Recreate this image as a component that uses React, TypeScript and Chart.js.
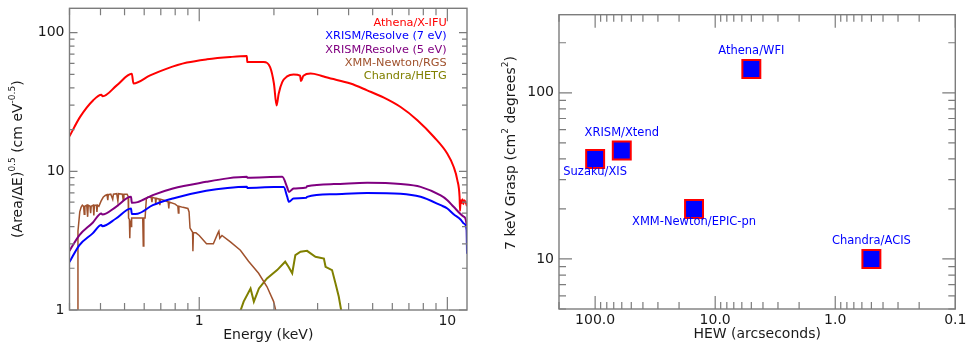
import React, { useEffect, useRef } from 'react';
import { Chart, registerables } from 'chart.js';
Chart.register(...registerables);

const FONT = '"DejaVu Sans", Verdana, sans-serif';
const TEXT = '#1a1a1a';
const FRAME = '#7c7c7c';

// ---------- Left panel: spectra (Energy keV vs (Area/dE)^0.5) ----------
const xifuE = [0.30, 0.331, 0.374, 0.403, 0.408, 0.465, 0.535, 0.543, 0.634, 0.741, 0.892, 1.074, 1.334, 1.555, 1.562, 1.82, 1.93, 2.0, 2.05, 2.09, 2.16, 2.26, 2.40, 2.55, 2.57, 2.63, 2.81, 3.08, 3.25, 4.07, 4.75, 5.55, 6.48, 7.57, 8.83, 10.0, 10.6, 10.97, 11.2, 11.25, 11.3, 11.4, 11.5, 11.6, 11.7, 11.85, 12.0];
const xifuV = [17.9, 24.7, 32.6, 35.7, 34.8, 41.7, 50.5, 43.0, 49.2, 55.1, 60.9, 64.3, 66.8, 67.8, 61.4, 61.4, 56.5, 43.0, 29.9, 36.3, 44.0, 48.4, 50.0, 49.0, 44.8, 49.0, 50.7, 49.2, 47.7, 43.0, 38.4, 34.0, 29.1, 23.4, 17.7, 13.4, 10.8, 8.65, 6.55, 5.2, 6.2, 5.9, 6.3, 5.8, 6.2, 6.0, 5.6];

const res7E = [0.30, 0.329, 0.372, 0.403, 0.407, 0.462, 0.531, 0.535, 0.565, 0.65, 0.783, 1.067, 1.3, 1.555, 1.562, 2.0, 2.19, 2.26, 2.30, 2.40, 2.70, 2.72, 3.49, 4.75, 6.48, 7.8, 9.4, 10.0, 10.6, 11.3, 11.67, 11.97, 12.0];
const res7V = [2.22, 2.94, 3.57, 4.10, 4.02, 4.57, 5.40, 4.92, 4.95, 5.7, 6.38, 7.24, 7.6, 7.75, 7.6, 7.7, 7.7, 6.6, 6.03, 6.37, 6.45, 6.55, 6.85, 6.98, 6.9, 6.55, 5.7, 5.4, 4.9, 4.5, 4.2, 3.77, 2.55];

const res5E = [0.30, 0.329, 0.372, 0.403, 0.407, 0.462, 0.531, 0.535, 0.565, 0.65, 0.783, 1.067, 1.3, 1.555, 1.562, 2.16, 2.26, 2.30, 2.40, 2.70, 2.72, 3.49, 4.75, 6.48, 7.8, 9.4, 10.0, 10.6, 11.67, 11.97, 12.0];
const res5V = [2.67, 3.47, 4.26, 4.97, 4.88, 5.55, 6.55, 5.93, 6.0, 6.74, 7.53, 8.4, 8.9, 9.13, 9.0, 9.13, 7.7, 7.1, 7.53, 7.65, 7.8, 8.09, 8.26, 8.1, 7.73, 6.7, 6.2, 5.55, 4.7, 4.0, 2.8];

const rgsE = [0.324, 0.3245, 0.330, 0.334, 0.338, 0.342, 0.344, 0.346, 0.352, 0.355, 0.357, 0.363, 0.365, 0.367, 0.374, 0.376, 0.378, 0.385, 0.387, 0.389, 0.394, 0.402, 0.41, 0.418, 0.425, 0.428, 0.43, 0.44, 0.448, 0.451, 0.465, 0.47, 0.473, 0.49, 0.494, 0.497, 0.512, 0.517, 0.519, 0.523, 0.525, 0.527, 0.531, 0.534, 0.55, 0.58, 0.592, 0.595, 0.598, 0.605, 0.612, 0.62, 0.64, 0.645, 0.648, 0.665, 0.668, 0.671, 0.69, 0.694, 0.697, 0.72, 0.75, 0.754, 0.757, 0.8, 0.82, 0.824, 0.828, 0.86, 0.9, 0.91, 0.918, 0.935, 0.94, 0.943, 0.947, 0.97, 1.0, 1.07, 1.14, 1.19, 1.2, 1.21, 1.235, 1.335, 1.465, 1.58, 1.735, 1.876, 1.995, 2.06];
const rgsV = [0.9, 3.7, 5.1, 5.5, 5.7, 5.6, 4.9, 5.6, 5.7, 4.7, 5.7, 5.6, 5.0, 5.6, 5.7, 4.8, 5.7, 5.7, 5.1, 5.7, 5.6, 6.1, 6.5, 6.7, 6.8, 6.2, 6.8, 6.85, 6.3, 6.85, 6.9, 6.1, 6.9, 6.85, 6.2, 6.85, 6.85, 6.6, 4.6, 4.5, 3.3, 4.4, 4.0, 4.6, 4.6, 4.6, 4.6, 2.9, 4.6, 4.6, 6.3, 6.5, 6.5, 6.0, 6.5, 6.4, 5.8, 6.4, 6.3, 5.7, 6.3, 6.2, 6.0, 5.4, 6.0, 5.8, 5.6, 5.0, 5.6, 5.5, 5.4, 5.1, 3.9, 3.7, 3.65, 2.65, 3.6, 3.6, 3.45, 3.0, 3.0, 3.6, 3.7, 3.3, 3.45, 3.1, 2.7, 2.25, 1.84, 1.47, 1.15, 0.9];

const hetgE = [1.44, 1.51, 1.61, 1.66, 1.74, 1.875, 2.06, 2.22, 2.29, 2.37, 2.44, 2.56, 2.72, 2.94, 3.18, 3.23, 3.43, 3.54, 3.65, 3.77];
const hetgV = [0.9, 1.15, 1.43, 1.15, 1.43, 1.69, 1.94, 2.23, 2.05, 1.84, 2.49, 2.63, 2.67, 2.42, 2.35, 2.05, 1.94, 1.56, 1.25, 0.9];

const seriesLabels = ['Athena/X-IFU', 'XRISM/Resolve (7 eV)', 'XRISM/Resolve (5 eV)', 'XMM-Newton/RGS', 'Chandra/HETG'];
const seriesColors = ['#ff0000', '#0000ff', '#800080', '#a0522d', '#808000'];

// ---------- Right panel: grasp vs HEW ----------
const missions = ['Suzaku/XIS', 'XRISM/Xtend', 'Athena/WFI', 'XMM-Newton/EPIC-pn', 'Chandra/ACIS'];
const hew = [100, 60, 5, 15, 0.5];
const grasp = [40, 45, 139, 20, 10];
const labelSide = ['below', 'above', 'above', 'below', 'above'];

const isPow10 = (v: number) => {
  const l = Math.log10(v);
  return Math.abs(l - Math.round(l)) < 1e-6;
};

function logTicks(min: number, max: number) {
  const major: number[] = [];
  const minor: number[] = [];
  for (let e = Math.floor(Math.log10(min)) - 1; e <= Math.ceil(Math.log10(max)); e++) {
    for (let k = 1; k <= 9; k++) {
      const v = k * Math.pow(10, e);
      if (v < min * (1 - 1e-9) || v > max * (1 + 1e-9)) continue;
      (k === 1 ? major : minor).push(v);
    }
  }
  return { major, minor };
}

type Seg = { t: string; sup?: boolean };

function drawRich(ctx: CanvasRenderingContext2D, segs: Seg[], cx: number, cy: number, rotated: boolean) {
  const main = `14px ${FONT}`;
  const sup = `9px ${FONT}`;
  let total = 0;
  const widths = segs.map((s) => {
    ctx.font = s.sup ? sup : main;
    const w = ctx.measureText(s.t).width;
    total += w;
    return w;
  });
  ctx.save();
  ctx.translate(cx, cy);
  if (rotated) ctx.rotate(-Math.PI / 2);
  ctx.fillStyle = TEXT;
  ctx.textAlign = 'left';
  ctx.textBaseline = 'alphabetic';
  let x = -total / 2;
  segs.forEach((s, i) => {
    ctx.font = s.sup ? sup : main;
    ctx.fillText(s.t, x, s.sup ? -2 : 5);
    x += widths[i];
  });
  ctx.restore();
}

function framePlugin(cfg: {
  id: string;
  xMaj: number; xMin: number; yMaj: number; yMin: number;
  extra: (chart: any) => void;
}) {
  return {
    id: cfg.id,
    afterDraw(chart: any) {
      const { ctx, chartArea: a } = chart;
      const xs = chart.scales.x;
      const ys = chart.scales.y;
      ctx.save();
      ctx.strokeStyle = FRAME;
      ctx.lineWidth = 1.2;
      ctx.beginPath();
      const xt = logTicks(xs.min, xs.max);
      const yt = logTicks(ys.min, ys.max);
      const xLine = (vals: number[], len: number) =>
        vals.forEach((v) => {
          const p = xs.getPixelForValue(v);
          if (p < a.left - 1 || p > a.right + 1) return;
          ctx.moveTo(p, a.bottom);
          ctx.lineTo(p, a.bottom - len);
          ctx.moveTo(p, a.top);
          ctx.lineTo(p, a.top + len);
        });
      const yLine = (vals: number[], len: number) =>
        vals.forEach((v) => {
          const p = ys.getPixelForValue(v);
          if (p < a.top - 1 || p > a.bottom + 1) return;
          ctx.moveTo(a.left, p);
          ctx.lineTo(a.left + len, p);
          ctx.moveTo(a.right, p);
          ctx.lineTo(a.right - len, p);
        });
      xLine(xt.major, cfg.xMaj);
      xLine(xt.minor, cfg.xMin);
      yLine(yt.major, cfg.yMaj);
      yLine(yt.minor, cfg.yMin);
      ctx.stroke();
      ctx.lineWidth = 1.4;
      ctx.strokeRect(a.left, a.top, a.right - a.left, a.bottom - a.top);
      ctx.restore();
      ctx.save();
      cfg.extra(chart);
      ctx.restore();
    },
  };
}

function tickFont() {
  return { family: FONT, size: 14 };
}

const fitX = (h: number) => (s: any) => {
  s.height = h;
  s.paddingLeft = 0;
  s.paddingRight = 0;
  s.paddingTop = 0;
  s.paddingBottom = 0;
};
const fitY = (w: number) => (s: any) => {
  s.width = w;
  s.paddingLeft = 0;
  s.paddingRight = 0;
  s.paddingTop = 0;
  s.paddingBottom = 0;
};

export default function App() {
  const leftRef = useRef<HTMLCanvasElement>(null);
  const rightRef = useRef<HTMLCanvasElement>(null);

  useEffect(() => {
    const mk = (xs: number[], ys: number[]) => xs.map((x, i) => ({ x, y: ys[i] }));
    const seriesData = [mk(xifuE, xifuV), mk(res7E, res7V), mk(res5E, res5V), mk(rgsE, rgsV), mk(hetgE, hetgV)];
    const widths = [2, 2, 2, 1.5, 2];
    const smooth = [true, true, true, false, false];

    const left = new Chart(leftRef.current!, {
      type: 'line',
      data: {
        datasets: seriesData.map((d, i) => ({
          label: seriesLabels[i],
          data: d,
          borderColor: seriesColors[i],
          backgroundColor: seriesColors[i],
          borderWidth: widths[i],
          pointRadius: 0,
          tension: 0,
          cubicInterpolationMode: smooth[i] ? 'monotone' : 'default',
          fill: false,
        })),
      },
      options: {
        responsive: false,
        animation: false,
        devicePixelRatio: 1,
        layout: { padding: { top: 8.3, right: 18, left: 0, bottom: 0 } },
        plugins: { legend: { display: false }, tooltip: { enabled: false } },
        scales: {
          x: {
            type: 'logarithmic',
            min: 0.3,
            max: 12,
            grid: { display: false, drawTicks: false },
            border: { display: false },
            ticks: {
              autoSkip: false,
              maxRotation: 0,
              padding: 3,
              color: TEXT,
              font: tickFont(),
              callback: (v: any) => (isPow10(Number(v)) ? String(Math.round(Number(v) * 1000) / 1000) : null),
            },
            afterFit: fitX(39),
          },
          y: {
            type: 'logarithmic',
            min: 1,
            max: 150,
            grid: { display: false, drawTicks: false },
            border: { display: false },
            ticks: {
              autoSkip: false,
              padding: 5,
              color: TEXT,
              font: tickFont(),
              callback: (v: any) => (isPow10(Number(v)) ? String(Math.round(Number(v))) : null),
            },
            afterFit: fitY(69.5),
          },
        },
      } as any,
      plugins: [
        framePlugin({
          id: 'leftFrame', xMaj: 13, xMin: 7, yMaj: 8, yMin: 5,
          extra: (chart: any) => {
            const { ctx, chartArea: a } = chart;
            ctx.font = `11.3px ${FONT}`;
            ctx.textAlign = 'right';
            ctx.textBaseline = 'middle';
            seriesLabels.forEach((l, i) => {
              ctx.fillStyle = seriesColors[i];
              ctx.fillText(l, a.right - 20.3, 23.3 + i * 13.2);
            });
            ctx.fillStyle = TEXT;
            ctx.font = `14px ${FONT}`;
            ctx.textAlign = 'center';
            ctx.textBaseline = 'middle';
            ctx.fillText('Energy (keV)', (a.left + a.right) / 2, 335);
            drawRich(ctx, [
              { t: '(Area/\u0394E)' }, { t: '0.5', sup: true }, { t: ' (cm eV' }, { t: '-0.5', sup: true }, { t: ')' },
            ], 17, (a.top + a.bottom) / 2, true);
          },
        }),
      ],
    });

    const right = new Chart(rightRef.current!, {
      type: 'scatter',
      data: {
        labels: missions,
        datasets: [{
          label: '7 keV Grasp',
          data: hew.map((h, i) => ({ x: h, y: grasp[i] })),
          pointStyle: 'rect',
          pointRadius: 12.7,
          pointBackgroundColor: '#0000ff',
          pointBorderColor: '#ff0000',
          pointBorderWidth: 2,
          showLine: false,
        }],
      },
      options: {
        responsive: false,
        animation: false,
        devicePixelRatio: 1,
        layout: { padding: { top: 8.3, right: 14, left: 0, bottom: 0 } },
        plugins: { legend: { display: false }, tooltip: { enabled: false } },
        scales: {
          x: {
            type: 'logarithmic',
            reverse: true,
            min: 0.1,
            max: 200,
            grid: { display: false, drawTicks: false },
            border: { display: false },
            ticks: {
              autoSkip: false,
              maxRotation: 0,
              padding: 3,
              color: TEXT,
              font: tickFont(),
              callback: (v: any) => (isPow10(Number(v)) ? Number(v).toFixed(1) : null),
            },
            afterFit: fitX(40),
          },
          y: {
            type: 'logarithmic',
            min: 5,
            max: 295,
            grid: { display: false, drawTicks: false },
            border: { display: false },
            ticks: {
              autoSkip: false,
              padding: 5,
              color: TEXT,
              font: tickFont(),
              callback: (v: any) => (isPow10(Number(v)) ? String(Math.round(Number(v))) : null),
            },
            afterFit: fitY(74),
          },
        },
      } as any,
      plugins: [
        framePlugin({
          id: 'rightFrame', xMaj: 13, xMin: 7, yMaj: 13, yMin: 7,
          extra: (chart: any) => {
            const { ctx, chartArea: a } = chart;
            const meta = chart.getDatasetMeta(0);
            ctx.font = `11.5px ${FONT}`;
            ctx.fillStyle = '#0000ff';
            ctx.textAlign = 'center';
            ctx.textBaseline = 'middle';
            meta.data.forEach((pt: any, i: number) => {
              const dy = labelSide[i] === 'above' ? -17.5 : 13;
              ctx.fillText(missions[i], pt.x, pt.y + dy);
            });
            ctx.fillStyle = TEXT;
            ctx.font = `14px ${FONT}`;
            ctx.fillText('HEW (arcseconds)', (a.left + a.right) / 2, 334);
            drawRich(ctx, [
              { t: '7 keV Grasp (cm' }, { t: '2', sup: true }, { t: ' degrees' }, { t: '2', sup: true }, { t: ')' },
            ], 25, 153, true);
          },
        }),
      ],
    });

    return () => {
      left.destroy();
      right.destroy();
    };
  }, []);

  return (
    <div style={{ position: 'fixed', left: 0, top: 0, width: 970, height: 349, background: '#fff' }}>
      <canvas ref={leftRef} width={485} height={349} style={{ position: 'absolute', left: 0, top: 0, width: 485, height: 349 }} />
      <canvas ref={rightRef} width={485} height={349} style={{ position: 'absolute', left: 485, top: 0, width: 485, height: 349 }} />
    </div>
  );
}
